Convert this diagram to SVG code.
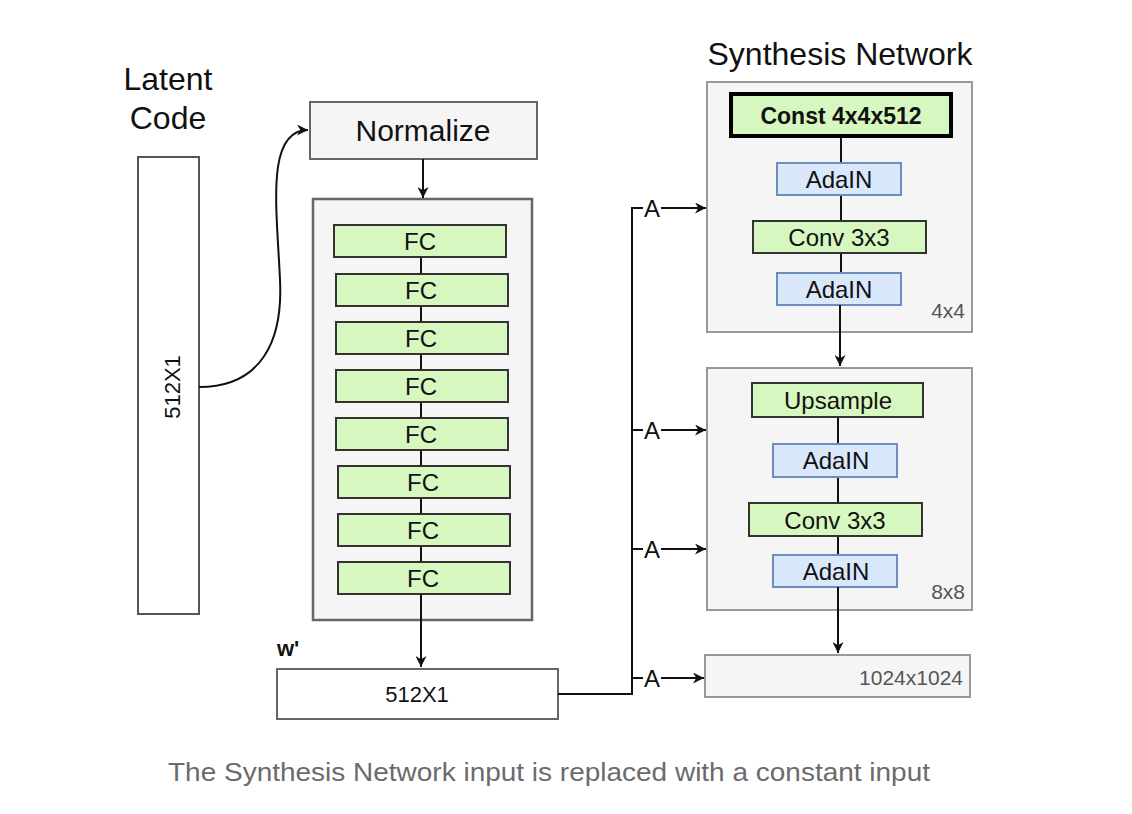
<svg xmlns="http://www.w3.org/2000/svg" width="1132" height="814" viewBox="0 0 1132 814">
<style>
text{font-family:"Liberation Sans",Arial,sans-serif;fill:#111}
.t{font-size:32px}
.c{text-anchor:middle}
.fc{fill:#d6f7bf;stroke:#333;stroke-width:2}
.ada{fill:#dae8fc;stroke:#6c8ebf;stroke-width:2}
.cont{fill:#f5f5f5;stroke:#999;stroke-width:2}
.lbl{font-size:24px}
.gray{font-size:21px;fill:#555;text-anchor:end}
.ln{fill:none;stroke:#111;stroke-width:2}
</style>
<defs>
<marker id="ah" viewBox="0 0 10 10" refX="10" refY="5" markerWidth="11" markerHeight="11" markerUnits="userSpaceOnUse" orient="auto">
<path d="M0,0 L10,5 L0,10 L3,5 Z" fill="#111"/>
</marker>
</defs>
<rect width="1132" height="814" fill="#fff"/>

<g id="latent-code">
<text class="t c" x="168" y="90">Latent</text>
<text class="t c" x="168" y="129">Code</text>
<rect x="138" y="157" width="61" height="457" fill="#fff" stroke="#555" stroke-width="2"/>
<text class="c" font-size="22" transform="translate(180,387) rotate(-90)">512X1</text>
</g>

<g id="normalize">
<rect x="310" y="102" width="227" height="57" fill="#f5f5f5" stroke="#666" stroke-width="2"/>
<text class="c" font-size="30" x="423" y="141">Normalize</text>
</g>

<g id="mapping">
<rect x="313" y="199" width="219" height="421" fill="#f5f5f5" stroke="#666" stroke-width="2.5"/>
<path class="ln" d="M421,257 L421,562"/>
<rect class="fc" x="334" y="225" width="172" height="32"/><text class="lbl c" x="420" y="250">FC</text>
<rect class="fc" x="336" y="274" width="172" height="32"/><text class="lbl c" x="421" y="299">FC</text>
<rect class="fc" x="336" y="322" width="172" height="32"/><text class="lbl c" x="421" y="347">FC</text>
<rect class="fc" x="336" y="370" width="172" height="32"/><text class="lbl c" x="421" y="395">FC</text>
<rect class="fc" x="336" y="418" width="172" height="32"/><text class="lbl c" x="421" y="443">FC</text>
<rect class="fc" x="338" y="466" width="172" height="32"/><text class="lbl c" x="423" y="491">FC</text>
<rect class="fc" x="338" y="514" width="172" height="32"/><text class="lbl c" x="423" y="539">FC</text>
<rect class="fc" x="338" y="562" width="172" height="32"/><text class="lbl c" x="423" y="587">FC</text>
</g>

<g id="w-vector">
<text x="277" y="656" font-size="22" font-weight="bold">w'</text>
<rect x="277" y="669" width="281" height="50" fill="#fff" stroke="#666" stroke-width="2"/>
<text class="c" font-size="22" x="417" y="702">512X1</text>
</g>

<g id="synthesis-title">
<text class="t c" x="840" y="65">Synthesis Network</text>
</g>

<g id="block-4x4">
<rect class="cont" x="707" y="82" width="265" height="250"/>
<path class="ln" d="M841,137 L841,163 M841,195 L841,221 M841,253 L841,273"/>
<rect x="731" y="94" width="220" height="42" fill="#d6f7bf" stroke="#000" stroke-width="4"/>
<text class="c" font-size="23" font-weight="bold" x="841" y="124">Const 4x4x512</text>
<rect class="ada" x="777" y="163" width="124" height="32"/><text class="lbl c" x="839" y="188">AdaIN</text>
<rect class="fc" x="753" y="221" width="173" height="32"/><text class="lbl c" x="839" y="246">Conv 3x3</text>
<rect class="ada" x="777" y="273" width="124" height="32"/><text class="lbl c" x="839" y="298">AdaIN</text>
<text class="gray" x="965" y="318">4x4</text>
</g>

<g id="block-8x8">
<rect class="cont" x="707" y="368" width="265" height="242"/>
<path class="ln" d="M838,417 L838,444 M838,477 L838,503 M838,536 L838,555"/>
<rect class="fc" x="752" y="383" width="171" height="34"/><text class="lbl c" x="838" y="409">Upsample</text>
<rect class="ada" x="773" y="444" width="124" height="33"/><text class="lbl c" x="836" y="469">AdaIN</text>
<rect class="fc" x="749" y="503" width="173" height="33"/><text class="lbl c" x="835" y="529">Conv 3x3</text>
<rect class="ada" x="773" y="555" width="124" height="32"/><text class="lbl c" x="836" y="580">AdaIN</text>
<text class="gray" x="965" y="599">8x8</text>
</g>

<g id="block-1024">
<rect class="cont" x="705" y="655" width="265" height="42"/>
<text class="gray" x="963" y="685">1024x1024</text>
</g>

<g id="connectors">
<path class="ln" d="M199,387 C262,387 283,340 280,280 C277,210 265,130 308,130" marker-end="url(#ah)"/>
<path class="ln" d="M423,159 L423,198" marker-end="url(#ah)"/>
<path class="ln" d="M421,594 L421,667" marker-end="url(#ah)"/>
<path class="ln" d="M840,305 L840,366" marker-end="url(#ah)"/>
<path class="ln" d="M838,587 L838,653" marker-end="url(#ah)"/>
<path class="ln" d="M558,694 L632,694 L632,208 L643,208"/>
<path class="ln" d="M632,430 L643,430"/>
<path class="ln" d="M632,549 L643,549"/>
<path class="ln" d="M632,678 L643,678"/>
<path class="ln" d="M661,208 L706,208" marker-end="url(#ah)"/>
<path class="ln" d="M661,430 L706,430" marker-end="url(#ah)"/>
<path class="ln" d="M661,549 L706,549" marker-end="url(#ah)"/>
<path class="ln" d="M661,678 L704,678" marker-end="url(#ah)"/>
<text class="lbl c" x="652" y="217">A</text>
<text class="lbl c" x="652" y="439">A</text>
<text class="lbl c" x="652" y="558">A</text>
<text class="lbl c" x="652" y="687">A</text>
</g>

<g id="caption">
<text x="168" y="781" font-size="25" style="fill:#6b6b6b" textLength="762" lengthAdjust="spacingAndGlyphs">The Synthesis Network input is replaced with a constant input</text>
</g>
</svg>
